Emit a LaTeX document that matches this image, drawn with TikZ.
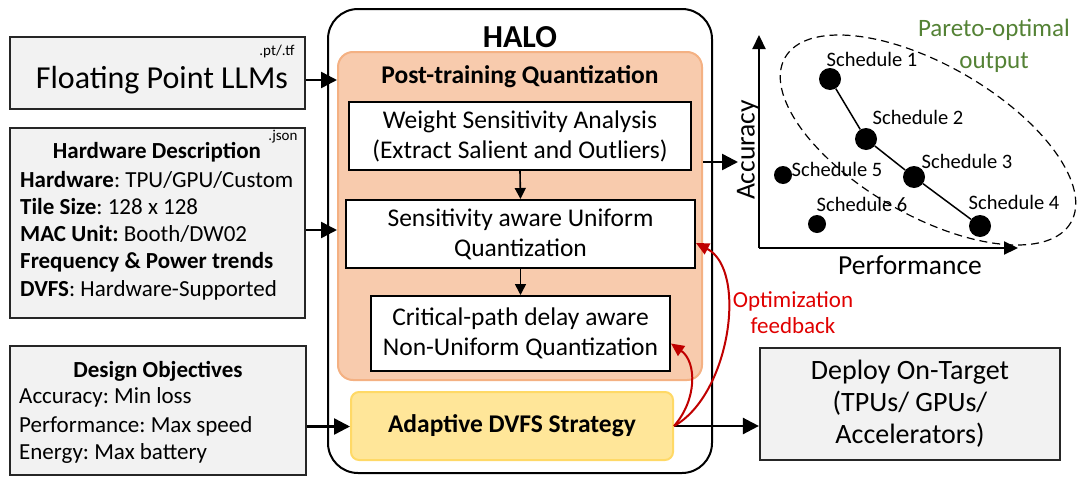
\documentclass[tikz,border=0pt]{standalone}
\usepackage{fontspec}
\setmainfont{Carlito}
\usetikzlibrary{arrows.meta,calc}
\definecolor{boxgray}{HTML}{F2F2F2}
\definecolor{ptqfill}{HTML}{F8CBAD}
\definecolor{ptqborder}{HTML}{F4B183}
\definecolor{dvfsfill}{HTML}{FFE699}
\definecolor{dvfsborder}{HTML}{FFD966}
\definecolor{fbred}{HTML}{C00000}
\definecolor{fbtext}{HTML}{E00000}
\definecolor{pgreen}{HTML}{548235}
\newcommand{\fs}[1]{\fontsize{#1}{#1}\selectfont}
\frenchspacing
\begin{document}
\begin{tikzpicture}[x=1pt,y=-1pt,
  inbox/.style={draw=black!85, fill=boxgray, line width=2.2pt},
  wbox/.style={draw=black, fill=white, line width=2pt, align=center, font=\fontsize{25.5}{30}\selectfont, inner sep=0pt},
  arr/.style={line width=2.5pt, -{Triangle[length=16pt,width=16pt]}},
  thinarr/.style={line width=1.6pt, -{Triangle[length=11pt,width=11pt]}},
  fb/.style={line width=2pt, draw=fbred, -{Triangle[length=13pt,width=12pt]}},
  txt/.style={inner sep=0pt, font=\fs{23}},
  dot/.style={circle, fill=black, inner sep=0pt, minimum size=#1},
  sched/.style={inner sep=0pt, font=\fs{20.5}}
]
\useasboundingbox (0,0) rectangle (1080,477);

% ---------- HALO container ----------
\node[draw=black, line width=2pt, rounded corners=30pt, minimum width=384pt, minimum height=464pt] (halo) at (520,241) {};
\node[inner sep=0pt, font=\fs{32}\bfseries] (halot) at (520,37) {HALO};
\node[draw=ptqborder, fill=ptqfill, line width=2pt, rounded corners=15pt, minimum width=364pt, minimum height=328pt] (ptq) at (520,216) {};
\node[inner sep=0pt, font=\fs{25.5}\bfseries] (ptqt) at (520,77) {Post-training Quantization};
\node[wbox, minimum width=342pt, minimum height=68pt] (wsa) at (520,136) {Weight Sensitivity Analysis\\(Extract Salient and Outliers)};
\node[wbox, minimum width=349pt, minimum height=68pt] (suq) at (520.5,234) {Sensitivity aware Uniform\\Quantization};
\node[wbox, minimum width=299pt, minimum height=75pt] (cnu) at (520.5,333.5) {Critical-path delay aware\\Non-Uniform Quantization};
\node[draw=dvfsborder, fill=dvfsfill, line width=2pt, rounded corners=8pt, minimum width=322pt, minimum height=68pt, font=\fs{25.5}\bfseries] (dvfs) at (512,426) {Adaptive DVFS Strategy};
\draw[thinarr] (wsa.south) -- (suq.north);
\draw[thinarr] (suq.south) -- (cnu.north);

% ---------- Left inputs ----------
\node[inbox, minimum width=295pt, minimum height=72pt] (fp) at (157.5,73) {};
\node[inner sep=0pt, font=\fs{32}] (fpt) at (162,80) {Floating Point LLMs};
\node[inner sep=0pt, font=\fs{15}] (fpx) at (277,51) {.pt/.tf};

\node[inbox, minimum width=295pt, minimum height=190pt] (hw) at (157.5,223) {};
\node[txt] (hwt) at (157,152) {\bfseries Hardware Description};
\node[inner sep=0pt, font=\fs{15}] (hwx) at (283,137) {.json};
\node[txt, anchor=west] (hw1) at (20,180) {\bfseries Hardware\mdseries: TPU/GPU/Custom};
\node[txt, anchor=west] (hw2) at (20,207) {\bfseries Tile Size\mdseries: 128 x 128};
\node[txt, anchor=west] (hw3) at (20,234) {\bfseries MAC Unit:\mdseries{} Booth/DW02};
\node[txt, anchor=west] (hw4) at (20,262) {\bfseries Frequency \& Power trends};
\node[txt, anchor=west] (hw5) at (20,290) {\bfseries DVFS\mdseries: Hardware-Supported};

\node[inbox, minimum width=296pt, minimum height=129pt] (dob) at (158,410.5) {};
\node[txt] (dobt) at (158,371) {\bfseries Design Objectives};
\node[txt, anchor=west] (dob1) at (19,397) {Accuracy: Min loss};
\node[txt, anchor=west] (dob2) at (19,426) {Performance: Max speed};
\node[txt, anchor=west] (dob3) at (19,453) {Energy: Max battery};

\coordinate (fpo) at ($(fp.east)+(0,7)$);
\coordinate (hwo) at ($(hw.east)+(0,7)$);
\coordinate (dobo) at ($(dob.east)+(0,16)$);
\draw[arr] (fpo) -- (fpo -| ptq.west);
\draw[arr] (hwo) -- (hwo -| ptq.west);
\draw[arr] (dobo) -- (dobo -| dvfs.west);

% ---------- Deploy ----------
\node[inbox, minimum width=300pt, minimum height=112pt, align=center, font=\fontsize{28}{32}\selectfont] (dep) at (910,404) {Deploy On-Target\\(TPUs/ GPUs/\\Accelerators)};
\draw[arr] (dvfs.east) -- (dvfs.east -| dep.west);

% ---------- Feedback ----------
\draw[fb] (dvfs.east) .. controls (730,395) and (748,270) .. ([yshift=-9pt]suq.east);
\draw[fb] (dvfs.east) .. controls (697,400) and (697,362) .. ([yshift=-10pt]cnu.east);
\node[align=center, text=fbtext, inner sep=0pt, font=\fontsize{23}{26}\selectfont] (fbt) at (793,313) {Optimization\\feedback};

% ---------- Plot ----------
\coordinate (orig) at (759,248);
\coordinate (ytop) at (759,35);
\coordinate (xend) at (1018,248);
\coordinate (plotin) at (738,162);
\draw[arr] (ptq.east |- plotin) -- (plotin);
\draw[line width=2.2pt, -{Triangle[length=14pt,width=13pt]}] (orig) -- (ytop);
\draw[line width=2.2pt, -{Triangle[length=14pt,width=13pt]}] (orig) -- (xend);
\node[inner sep=0pt, rotate=90, font=\fs{27.5}] (acc) at (748,150) {Accuracy};
\node[inner sep=0pt, font=\fs{27.5}] (perf) at (910,265) {Performance};

\draw[dashed, line width=1.2pt, dash pattern=on 8pt off 5pt, rotate around={-30:(928,140)}] (928,140) ellipse [x radius=165, y radius=75];

\node[dot=22pt] (s1) at (830,79) {};
\node[dot=22pt] (s2) at (866,139) {};
\node[dot=22pt] (s3) at (914,177) {};
\node[dot=22pt] (s4) at (980,226) {};
\node[dot=18pt] (s5) at (783,175) {};
\node[dot=18pt] (s6) at (817,224) {};
\draw[line width=1.5pt] (s1) -- (s2) -- (s3) -- (s4);
\node[sched] (l1) at (872,59) {Schedule 1};
\node[sched] (l2) at (918,117) {Schedule 2};
\node[sched] (l3) at (967,161) {Schedule 3};
\node[sched] (l4) at (1014,202) {Schedule 4};
\node[sched] (l5) at (837,169) {Schedule 5};
\node[sched] (l6) at (862,204) {Schedule 6};

\node[align=center, text=pgreen, inner sep=0pt, font=\fontsize{25}{32}\selectfont] (par) at (994,46) {Pareto-optimal\\output};
\end{tikzpicture}
\end{document}
